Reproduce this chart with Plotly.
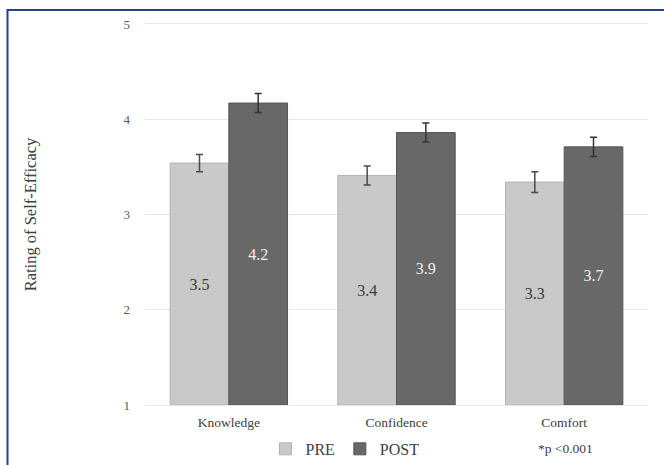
import plotly.graph_objects as go

categories = ["Knowledge", "Confidence", "Comfort"]
pre_values = [3.54, 3.41, 3.34]
post_values = [4.17, 3.86, 3.71]
pre_errors = [0.09, 0.10, 0.11]
post_errors = [0.10, 0.10, 0.10]
series_names = ["PRE", "POST"]
y_ticks = [1, 2, 3, 4, 5]
note_text = "*p <0.001"
y_title = "Rating of Self-Efficacy"

BASE = 1
SERIF = "Liberation Serif, Times New Roman, serif"
GRID = "#e6e6e6"

fig = go.Figure()
fig.add_trace(go.Bar(
    name=series_names[0], x=categories,
    y=[v - BASE for v in pre_values], base=BASE,
    text=[f"{v:.1f}" for v in pre_values],
    textposition="inside", insidetextanchor="middle", textangle=0,
    insidetextfont=dict(family=SERIF, size=16, color="#3a3a3a"),
    marker=dict(color="#c9c9c9", line=dict(color="#b3b3b3", width=1)),
    error_y=dict(type="data", array=pre_errors, color="#4a4a4a", thickness=1.5, width=3.5),
    hoverinfo="skip",
))
fig.add_trace(go.Bar(
    name=series_names[1], x=categories,
    y=[v - BASE for v in post_values], base=BASE,
    text=[f"{v:.1f}" for v in post_values],
    textposition="inside", insidetextanchor="middle", textangle=0,
    insidetextfont=dict(family=SERIF, size=16, color="#f0f0f0"),
    marker=dict(color="#686868", line=dict(color="#555555", width=1)),
    error_y=dict(type="data", array=post_errors, color="#333333", thickness=1.5, width=3.5),
    hoverinfo="skip",
))

W, H = 664, 465
L, R, T, B = 145, 16, 23.5, 60
pw, ph = W - L - R, H - T - B

def px_to_paper_x(px):
    return (px - L) / pw

def px_to_paper_y(py):
    return (H - B - py) / ph

fig.update_layout(
    width=W, height=H,
    margin=dict(l=L, r=R, t=T, b=B, autoexpand=False),
    paper_bgcolor="white", plot_bgcolor="white",
    barmode="group", bargap=0.3, bargroupgap=0,
    font=dict(family=SERIF, color="#404040"),
    showlegend=True,
    legend=dict(
        orientation="h", xanchor="center", yanchor="middle",
        x=px_to_paper_x(345), y=px_to_paper_y(449),
        font=dict(family=SERIF, size=16, color="#404040"),
        itemwidth=30, tracegroupgap=0,
        bgcolor="rgba(0,0,0,0)",
    ),
    xaxis=dict(
        range=[-0.5, 2.5], showgrid=False, zeroline=False,
        showline=True, mirror=True, linecolor=GRID, linewidth=1,
        tickfont=dict(family=SERIF, size=13.5, color="#404040"),
        ticks="", ticklabelstandoff=5,
    ),
    yaxis=dict(
        range=[1, 5], tickvals=y_ticks, showgrid=True, gridcolor=GRID, gridwidth=1,
        zeroline=False, showline=False, ticks="",
        tickfont=dict(family=SERIF, size=13, color="#595959"),
        ticklabelstandoff=14,
        title=dict(text=y_title, font=dict(family=SERIF, size=16.5, color="#404040"), standoff=82),
    ),
    annotations=[dict(
        text=note_text, xref="paper", yref="paper",
        x=px_to_paper_x(565), y=px_to_paper_y(449),
        xanchor="center", yanchor="middle", showarrow=False,
        font=dict(family=SERIF, size=13.5, color="#404040"),
    )],
    shapes=[dict(
        type="rect", xref="paper", yref="paper",
        x0=px_to_paper_x(7.5), x1=px_to_paper_x(700),
        y0=px_to_paper_y(520), y1=px_to_paper_y(9.5),
        line=dict(color="#23428a", width=2), layer="below",
    )],
)

fig.write_html(
    "out.html",
    config={"displayModeBar": False},
    post_script="document.body.style.margin='0';document.body.style.overflow='hidden';",
)
